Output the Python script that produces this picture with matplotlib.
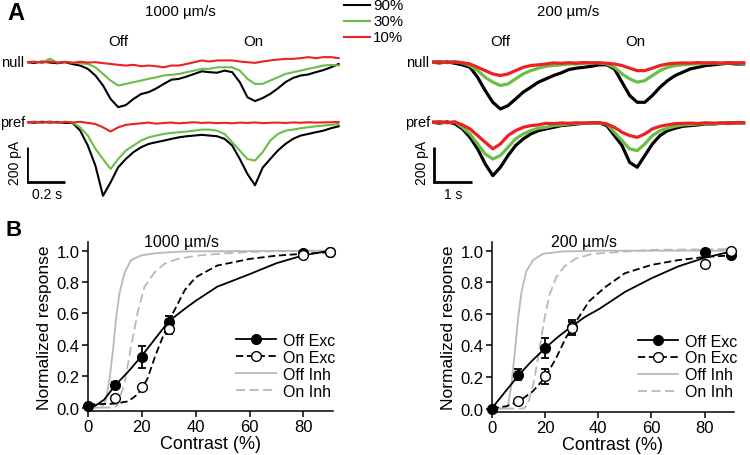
import numpy as np
import matplotlib
matplotlib.use("Agg")
import matplotlib.pyplot as plt
from matplotlib.lines import Line2D

plt.rcParams['font.family'] = ['Liberation Sans', 'DejaVu Sans']

# ---------------- panel A: current traces (pA) ----------------
# 1000 um/s, sampled every 0.04 s
t_fast = [0.00, 0.04, 0.08, 0.12, 0.16, 0.20, 0.24, 0.28, 0.32, 0.36, 0.40, 0.44, 0.48, 0.52,
          0.56, 0.60, 0.64, 0.68, 0.72, 0.76, 0.80, 0.84, 0.88, 0.92, 0.96, 1.00, 1.04, 1.08,
          1.12, 1.16, 1.20, 1.24, 1.28, 1.32, 1.36, 1.40, 1.44, 1.48, 1.52, 1.56, 1.60, 1.64]
fast_null_90 = [0, -4, 4, -2, -6, 0, -11, -19, -38, -76, -133, -210, -257, -245, -210, -182,
                -171, -150, -124, -100, -95, -82, -67, -52, -57, -60, -48, -57, -114, -200,
                -222, -205, -181, -150, -114, -90, -76, -70, -57, -45, -29, -10]
fast_null_30 = [0, 2, -2, 20, -3, 2, -2, -6, -10, -29, -67, -105, -133, -124, -114, -105,
                -95, -86, -76, -72, -67, -57, -48, -38, -38, -29, -29, -29, -48, -95,
                -124, -124, -105, -86, -67, -57, -48, -38, -29, -19, -15, -19]
fast_null_10 = [0, 3, -3, 4, -2, 2, -4, 3, -2, 0, -5, -10, -15, -19, -15, -23,
                -19, -23, -29, -19, -19, -10, 0, 10, 4, 10, 10, 10, 4, 0,
                -4, 4, 10, 15, 19, 19, 23, 29, 23, 29, 29, 23]
fast_pref_90 = [0, -3, 3, -2, 2, -4, -4, -48, -133, -248, -420, -343, -257, -210, -171, -143,
                -124, -114, -105, -95, -86, -80, -76, -72, -76, -80, -95, -133, -210, -295,
                -360, -260, -210, -162, -124, -95, -76, -67, -57, -48, -34, -23]
fast_pref_30 = [0, 2, -3, 2, -2, 3, -2, -29, -76, -152, -210, -267, -210, -162, -133, -105,
                -86, -76, -67, -61, -57, -53, -48, -42, -42, -48, -67, -114, -162, -210,
                -219, -171, -105, -67, -48, -42, -34, -29, -23, -19, -15, -10]
fast_pref_10 = [0, 3, -2, 4, -3, 2, -2, 3, -4, -10, -29, -53, -29, -15, -10, -6,
                -2, -8, -4, -2, -6, -3, 0, -4, -2, -5, -3, -6, -2, -4,
                -1, -5, -3, -2, -4, -1, -3, 0, -2, -1, 0, 2]

# 200 um/s, sampled every 0.2 s
t_slow = [0.0, 0.2, 0.4, 0.6, 0.8, 1.0, 1.2, 1.4, 1.6, 1.8, 2.0, 2.2, 2.4, 2.6,
          2.8, 3.0, 3.2, 3.4, 3.6, 3.8, 4.0, 4.2, 4.4, 4.6, 4.8, 5.0, 5.2, 5.4,
          5.6, 5.8, 6.0, 6.2, 6.4, 6.6, 6.8, 7.0, 7.2, 7.4, 7.6, 7.8, 8.0, 8.2]
slow_null_90 = [0, -4, 2, -6, -15, -29, -86, -162, -229, -267, -248, -210, -171, -143, -114, -95,
                -76, -61, -42, -34, -29, -23, -15, -15, -38, -114, -190, -229, -229, -190,
                -143, -105, -76, -57, -38, -29, -19, -15, -10, -6, -10, -10]
slow_null_30 = [0, 2, -2, 3, -4, -19, -48, -86, -114, -133, -124, -95, -67, -48, -34, -23,
                -19, -15, -10, -10, -6, -4, -4, -10, -29, -67, -95, -114, -105, -76,
                -48, -29, -19, -15, -10, -10, -6, -4, -6, -4, -4, -6]
slow_null_10 = [0, 3, -2, 2, -3, -10, -29, -48, -67, -76, -67, -48, -29, -19, -15, -10,
                -4, -6, -3, -5, -2, -4, -3, -6, -10, -19, -34, -48, -48, -34,
                -19, -10, -6, -4, -5, -2, -4, -3, -5, -2, -4, -3]
slow_pref_90 = [0, -5, 2, -8, -38, -86, -152, -238, -305, -257, -190, -133, -95, -67, -48, -38,
                -29, -19, -15, -10, -6, -4, -4, -19, -76, -133, -229, -257, -190, -124,
                -76, -48, -34, -23, -19, -15, -10, -10, -6, -4, -4, -4]
slow_pref_30 = [0, 2, -3, 2, -29, -67, -124, -181, -210, -190, -143, -95, -67, -48, -34, -29,
                -19, -15, -10, -6, -6, -6, -6, -10, -57, -105, -152, -162, -124, -76,
                -48, -34, -23, -15, -13, -10, -8, -10, -6, -8, -5, -6]
slow_pref_10 = [0, 3, -2, 2, -15, -38, -76, -114, -152, -124, -76, -48, -29, -19, -15, -6,
                -8, -4, -6, -3, -5, -4, -2, -10, -29, -57, -76, -86, -67, -38,
                -23, -15, -8, -6, -5, -7, -3, -5, -4, -6, -3, -2]

contrast_labels = ['90%', '30%', '10%']
trace_colors = ['black', '#6cbd45', '#ed2024']

# ---------------- panel B: contrast response ----------------
contrast = [0, 10, 20, 30, 80, 90]
contrast_on = [10, 20, 30, 80, 90]

# 1000 um/s
f_off_exc = [0.01, 0.145, 0.32, 0.545, 0.985, 0.99]
f_off_exc_err = [0.005, 0.02, 0.07, 0.04, 0.01, 0.005]
f_on_exc = [0.06, 0.13, 0.50, 0.975, 0.99]
f_on_exc_err = [0.01, 0.01, 0.03, 0.01, 0.005]
f_off_exc_fit_x = [0, 2.5, 6, 10, 15, 20, 25, 30, 36, 40, 48, 60, 70, 80, 90]
f_off_exc_fit_y = [0.0, 0.01, 0.05, 0.14, 0.23, 0.33, 0.44, 0.55, 0.63, 0.68, 0.77, 0.85, 0.92, 0.97, 1.0]
f_on_exc_fit_x = [0, 10, 15, 18.5, 22, 25, 28, 31.5, 36, 40, 48, 60, 70, 80, 90]
f_on_exc_fit_y = [0.02, 0.025, 0.04, 0.085, 0.18, 0.33, 0.46, 0.60, 0.75, 0.83, 0.905, 0.947, 0.968, 0.98, 0.99]
f_off_inh_fit_x = [0, 5, 6.5, 8.0, 9.3, 10.5, 11.7, 13.6, 16, 19.8, 25.9, 35.8, 90]
f_off_inh_fit_y = [0, 0.0, 0.04, 0.18, 0.37, 0.58, 0.73, 0.86, 0.94, 0.97, 0.985, 0.995, 1.0]
f_on_inh_fit_x = [0, 10, 11.1, 13.6, 16, 18.5, 21, 24.7, 28.4, 33.3, 40.4, 50.6, 65, 90]
f_on_inh_fit_y = [0, 0.0, 0.02, 0.16, 0.39, 0.61, 0.77, 0.86, 0.916, 0.947, 0.968, 0.983, 0.995, 1.0]

# 200 um/s
s_off_exc = [0.0, 0.215, 0.385, 0.515, 0.994, 0.97]
s_off_exc_err = [0.005, 0.035, 0.063, 0.047, 0.01, 0.01]
s_on_exc = [0.046, 0.205, 0.51, 0.915, 1.0]
s_on_exc_err = [0.01, 0.047, 0.04, 0.01, 0.005]
s_off_exc_fit_x = [0, 5, 10.3, 15, 20.2, 25, 30, 35, 40.3, 50.2, 60, 70, 80, 90]
s_off_exc_fit_y = [0.0, 0.105, 0.215, 0.30, 0.385, 0.455, 0.52, 0.58, 0.63, 0.74, 0.825, 0.9, 0.955, 0.995]
s_on_exc_fit_x = [0, 5.6, 10.3, 15.5, 20.2, 24.2, 27.9, 31.6, 36.6, 42.7, 50, 60, 70, 80, 90]
s_on_exc_fit_y = [0, 0.015, 0.046, 0.11, 0.2, 0.32, 0.45, 0.55, 0.68, 0.77, 0.857, 0.91, 0.94, 0.96, 0.97]
s_off_inh_fit_x = [0, 5, 6.2, 7.4, 8.7, 9.9, 11.2, 13, 15.5, 19.2, 26.6, 40, 90]
s_off_inh_fit_y = [0, 0.0, 0.025, 0.15, 0.36, 0.57, 0.74, 0.87, 0.94, 0.98, 0.995, 1.0, 1.0]
s_on_inh_fit_x = [0, 12, 13.6, 16.1, 18, 19.8, 21.7, 24.2, 27.3, 31.6, 37.8, 46.5, 60, 90]
s_on_inh_fit_y = [0, 0.0, 0.025, 0.19, 0.385, 0.57, 0.72, 0.83, 0.9, 0.95, 0.98, 0.99, 1.005, 1.01]

legend_labels = ['Off Exc', 'On Exc', 'Off Inh', 'On Inh']

W, H = 750, 456
fig = plt.figure(figsize=(7.5, 4.56), dpi=100)


def fx(px):
    return px / W


def fy(py):
    return 1 - py / H


null_offset = 343  # vertical gap between null and pref rows, pA
gray = '#b8b8b8'


def trace_axes(left_px, width_px, t_max, t, null, pref, lw, bar_t0, bar_t):
    ax = fig.add_axes([fx(left_px), fy(205), width_px / W, 160 / H])
    ax.set_xlim(0, t_max)
    ax.set_ylim(-467, 447)
    ax.axis('off')
    for tr, c in zip(null, trace_colors):
        ax.plot(t, np.array(tr) + null_offset, color=c, lw=lw)
    for tr, c in zip(pref, trace_colors):
        ax.plot(t, tr, color=c, lw=lw)
    # scale bar
    ax.plot([bar_t0, bar_t0, bar_t0 + bar_t], [-140, -340, -340], color='k', lw=2,
            solid_capstyle='butt', solid_joinstyle='miter')
    return ax


trace_axes(27, 316, 1.663, t_fast, [fast_null_90, fast_null_30, fast_null_10],
           [fast_pref_90, fast_pref_30, fast_pref_10], 1.5, 0, 0.2)
trace_axes(432, 315, 8.289, t_slow, [slow_null_90, slow_null_30, slow_null_10],
           [slow_pref_90, slow_pref_30, slow_pref_10], 2.3, 0.05, 1.0)

fs_a = 10.8
fig.text(fx(16), fy(14), 'A', fontsize=17, fontweight='bold', ha='center', va='center')
fig.text(fx(180), fy(12), '1000 µm/s', fontsize=fs_a, ha='center', va='center')
fig.text(fx(568), fy(12), '200 µm/s', fontsize=fs_a, ha='center', va='center')
for x, s in [(118, 'Off'), (253, 'On'), (500, 'Off'), (635, 'On')]:
    fig.text(fx(x), fy(42), s, fontsize=fs_a, ha='center', va='center')
for x in [24, 429]:
    fig.text(fx(x), fy(63), 'null', fontsize=10.5, ha='right', va='center')
    fig.text(fx(x + 1), fy(123), 'pref', fontsize=10.5, ha='right', va='center')
fig.text(fx(15), fy(163), '200 pA', fontsize=10, rotation=90, ha='center', va='center')
fig.text(fx(422), fy(163), '200 pA', fontsize=10, rotation=90, ha='center', va='center')
fig.text(fx(47), fy(195), '0.2 s', fontsize=10, ha='center', va='center')
fig.text(fx(453), fy(195), '1 s', fontsize=10, ha='center', va='center')

# contrast legend for the traces
for i, (lab, c) in enumerate(zip(contrast_labels, trace_colors)):
    y = [6, 22, 38][i]
    fig.add_artist(Line2D([fx(344), fx(370)], [fy(y), fy(y)], color=c, lw=1.5,
                          transform=fig.transFigure))
    fig.text(fx(373), fy(y), lab, fontsize=10.8, ha='left', va='center')

fig.text(fx(14), fy(231), 'B', fontsize=16, fontweight='bold', ha='center', va='center')


def response_axes(rect, title, off_exc, off_err, on_exc, on_err, fits):
    ax = fig.add_axes(rect)
    ax.set_xlim(0, 91)
    ax.set_ylim(-0.02, 1.055)
    (ofx, ofy), (onx, ony), (oix, oiy), (nix, niy) = fits
    ax.plot(oix, oiy, color=gray, lw=1.3, zorder=1)
    ax.plot(nix, niy, color=gray, lw=1.3, ls=(0, (5, 2.5)), zorder=1)
    ax.plot(ofx, ofy, color='k', lw=1.3, zorder=2)
    ax.plot(onx, ony, color='k', lw=1.3, ls=(0, (4, 2)), zorder=2)
    ax.errorbar(contrast, off_exc, yerr=off_err, fmt='none', ecolor='k', elinewidth=1.3,
                capsize=3, capthick=1.3, zorder=3)
    ax.errorbar(contrast_on, on_exc, yerr=on_err, fmt='none', ecolor='k', elinewidth=1.3,
                capsize=3, capthick=1.3, zorder=3)
    ax.plot(contrast, off_exc, 'o', ms=7, mfc='k', mec='k', zorder=4, clip_on=False)
    ax.plot(contrast_on, on_exc, 'o', ms=7, mfc='white', mec='k', mew=1.0, zorder=5,
            clip_on=False)
    ax.set_xticks([0, 20, 40, 60, 80])
    ax.set_yticks([0.0, 0.2, 0.4, 0.6, 0.8, 1.0])
    ax.set_yticklabels(['0.0', '0.2', '0.4', '0.6', '0.8', '1.0'])
    for s in ['top', 'right']:
        ax.spines[s].set_visible(False)
    for s in ['left', 'bottom']:
        ax.spines[s].set_linewidth(1.1)
    ax.tick_params(direction='out', length=4, width=1.1, labelsize=12, pad=2)
    ax.set_xlabel('Contrast (%)', fontsize=13, labelpad=1)
    ax.set_ylabel('Normalized response', fontsize=12.5, labelpad=3)
    ax.text(0.38, 1.0, title, transform=ax.transAxes, fontsize=11.5, ha='center', va='center')
    handles = [
        Line2D([], [], color='k', lw=1.3, marker='o', ms=7, mfc='k', mec='k'),
        Line2D([], [], color='k', lw=1.3, ls=(0, (4, 2)), marker='o', ms=7, mfc='white', mec='k'),
        Line2D([], [], color=gray, lw=1.3),
        Line2D([], [], color=gray, lw=1.3, ls=(0, (5, 2.5))),
    ]
    ax.legend(handles, legend_labels, loc='center left', bbox_to_anchor=(0.605, 0.267),
              frameon=False, fontsize=11.5, handlelength=2.5, handletextpad=0.4,
              labelspacing=0.12, borderpad=0, borderaxespad=0)
    return ax


response_axes([fx(88), fy(411.7), 245 / W, 168.7 / H], '1000 µm/s',
              f_off_exc, f_off_exc_err, f_on_exc, f_on_exc_err,
              [(f_off_exc_fit_x, f_off_exc_fit_y), (f_on_exc_fit_x, f_on_exc_fit_y),
               (f_off_inh_fit_x, f_off_inh_fit_y), (f_on_inh_fit_x, f_on_inh_fit_y)])
response_axes([fx(491.7), fy(412.7), 242.3 / W, 169.7 / H], '200 µm/s',
              s_off_exc, s_off_exc_err, s_on_exc, s_on_exc_err,
              [(s_off_exc_fit_x, s_off_exc_fit_y), (s_on_exc_fit_x, s_on_exc_fit_y),
               (s_off_inh_fit_x, s_off_inh_fit_y), (s_on_inh_fit_x, s_on_inh_fit_y)])

fig.savefig('out.png', dpi=100)
